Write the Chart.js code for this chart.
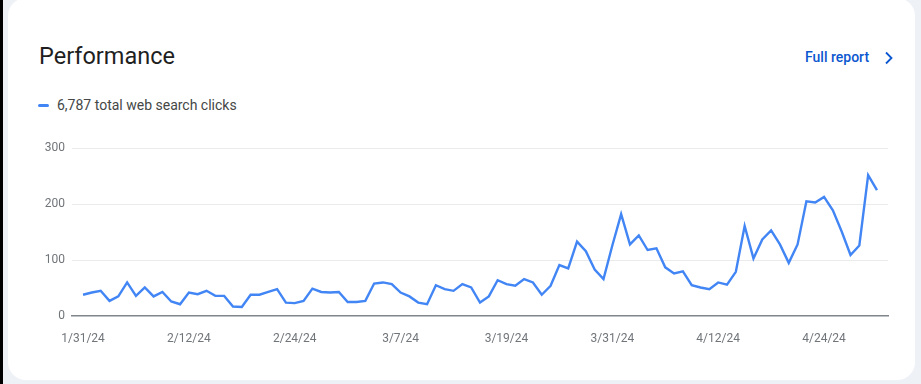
<!DOCTYPE html>
<html>
<head>
<meta charset="utf-8">
<script src="https://cdn.jsdelivr.net/npm/chart.js@4.4.1/dist/chart.umd.min.js"></script>
<style>
    html, body { margin: 0; padding: 0; }
    body {
        width: 921px; height: 384px; overflow: hidden; position: relative;
        background: #eef1f6; font-family: Roboto, "Noto Sans", sans-serif;
    }
    #strip { position: absolute; left: 0; top: 0; width: 3px; height: 384px; background: #000; }
    #card {
        position: absolute; left: 8px; top: -2px; width: 907px; height: 382px;
        background: #fff; border-radius: 18px;
    }
    #title {
        position: absolute; left: 39px; top: 41px; font-size: 23.5px; color: #1f1f1f;
        line-height: 30px;
    }
    #report {
        position: absolute; left: 805px; top: 48px; font-size: 14px; font-weight: 500;
        color: #0b57d0; line-height: 18px;
    }
    #chev { position: absolute; left: 884px; top: 51px; }
    #legend {
        position: absolute; left: 38px; top: 96px; font-size: 14px; color: #444746;
        line-height: 18px;
    }
    #legend span.mark {
        display: inline-block; width: 11px; height: 3px; border-radius: 2px;
        background: #4285f4; vertical-align: middle; margin-right: 8px; position: relative; top: -1px;
    }
    #box { position: absolute; left: 0; top: 134px; width: 921px; height: 216px; }
</style>
</head>
<body>
<div id="strip"></div>
<div id="card"></div>
<div id="title">Performance</div>
<div id="report">Full report</div>
<svg id="chev" width="10" height="14" viewBox="0 0 10 14">
    <path d="M2 1.5 L7.5 7 L2 12.5" fill="none" stroke="#0b57d0" stroke-width="1.8"/>
</svg>
<div id="legend"><span class="mark"></span>6,787 total web search clicks</div>
<div id="box"><canvas id="index"></canvas></div>
<script>
// daily clicks, 1/31/24 .. 4/30/24
const clicks = [
    38, 42, 45, 27, 35, 60, 36, 51, 35, 43,
    26, 21, 42, 39, 45, 36, 36, 17, 16, 38,
    38, 43, 48, 24, 23, 27, 49, 43, 42, 43,
    25, 25, 27, 58, 60, 57, 42, 35, 24, 21,
    55, 48, 45, 57, 51, 24, 35, 64, 57, 54,
    66, 60, 38, 54, 91, 85, 133, 116, 83, 66,
    126, 182, 128, 144, 118, 121, 87, 76, 80, 55,
    51, 48, 60, 56, 79, 161, 103, 137, 153, 128,
    95, 128, 205, 203, 213, 189, 151, 109, 126, 252,
    225
];
const tickDays = [0, 12, 24, 36, 48, 60, 72, 84];
const tickLabels = ['1/31/24', '2/12/24', '2/24/24', '3/7/24', '3/19/24', '3/31/24', '4/12/24', '4/24/24'];
const yTicks = [0, 100, 200, 300];

let points = [];
for (let i = 0; i < clicks.length; i++) {
    points.push({ x: i, y: clicks[i] });
}

const tickFont = { family: 'Roboto', size: 12 };
let ctx = document.getElementById('index').getContext('2d');
new Chart(ctx, {
    type: 'line',
    data: {
        datasets: [{
            label: 'Clicks',
            data: points,
            borderColor: '#4285f4',
            borderWidth: 2.4,
            pointRadius: 0,
            tension: 0,
            fill: false
        }]
    },
    options: {
        responsive: true,
        maintainAspectRatio: false,
        animation: false,
        layout: { padding: { left: 30, right: 33, top: 2, bottom: 0 } },
        plugins: { legend: { display: false }, tooltip: { enabled: false } },
        scales: {
            x: {
                type: 'linear',
                min: -1.25,
                max: 91.25,
                afterBuildTicks: (scale) => {
                    scale.ticks = tickDays.map(v => ({ value: v }));
                },
                afterFit: (scale) => { scale.height = 34; },
                grid: { display: false, drawTicks: false },
                border: { display: true, color: '#80868b', width: 1.5 },
                ticks: {
                    autoSkip: false,
                    maxRotation: 0,
                    padding: 16,
                    color: '#70757a',
                    font: tickFont,
                    callback: (value) => tickLabels[tickDays.indexOf(value)]
                }
            },
            y: {
                min: 0,
                max: 300,
                afterBuildTicks: (scale) => {
                    scale.ticks = yTicks.map(v => ({ value: v }));
                },
                afterFit: (scale) => { scale.width = 42; },
                border: { display: false },
                grid: {
                    drawTicks: false,
                    color: (c) => c.tick && c.tick.value === 0 ? 'rgba(0,0,0,0)' : '#ebebeb',
                    lineWidth: 1
                },
                ticks: {
                    padding: 7,
                    color: '#70757a',
                    font: tickFont
                }
            }
        }
    }
});
</script>
</body>
</html>
